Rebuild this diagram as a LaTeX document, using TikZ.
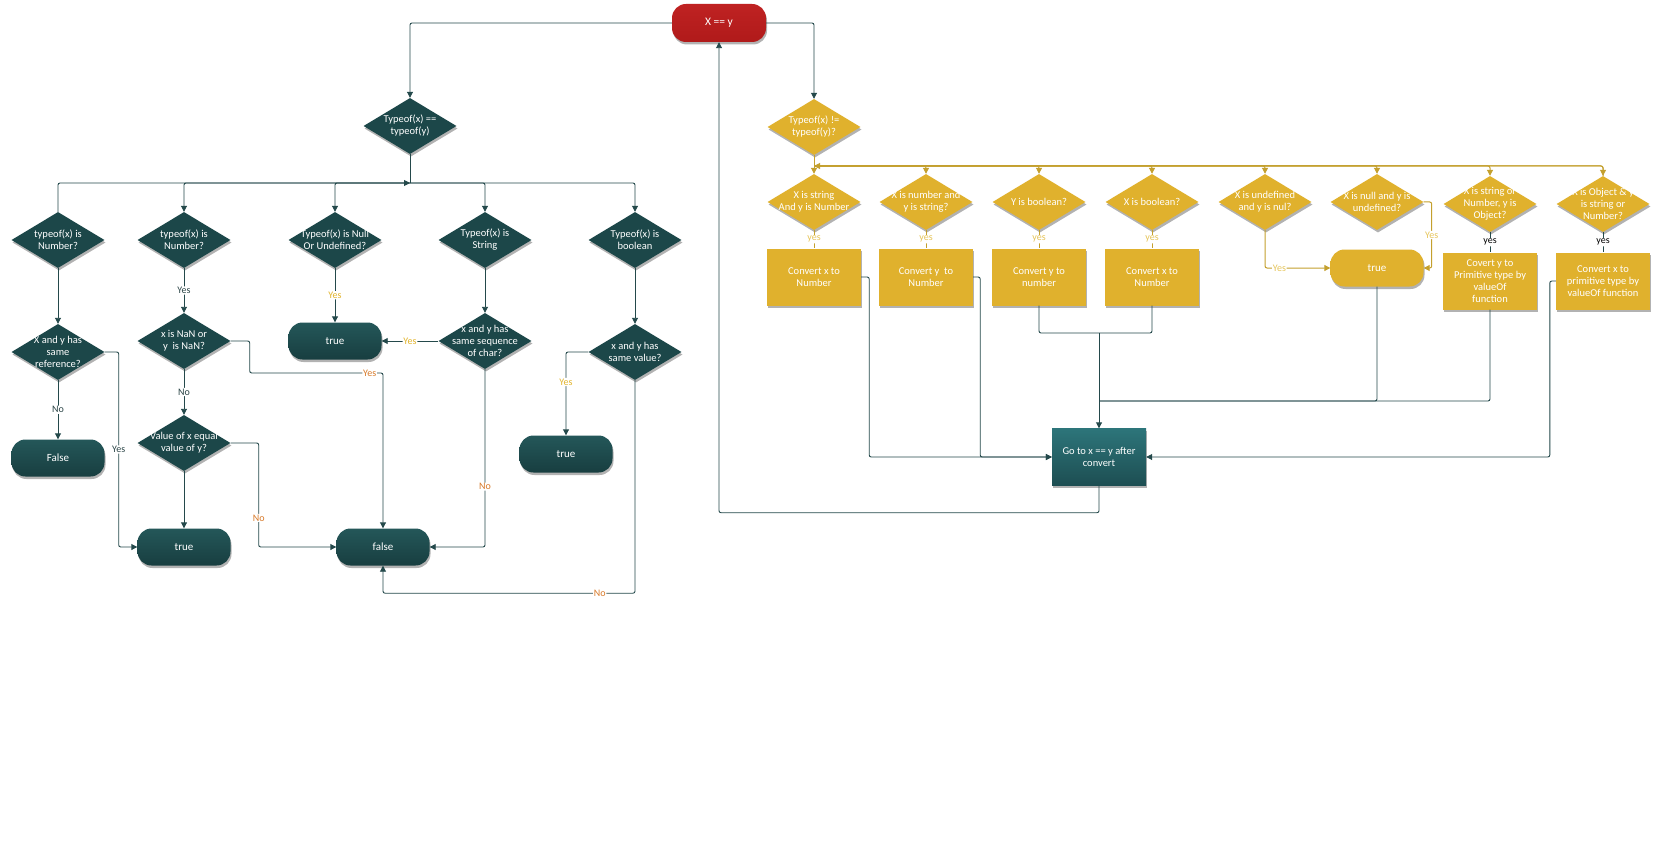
\documentclass[tikz,border=0pt]{standalone}
\usepackage{fontspec}
\setmainfont{Carlito}
\usetikzlibrary{shapes.geometric,arrows.meta,shadows}
\definecolor{dk}{HTML}{1C4749}
\definecolor{dkt}{HTML}{245759}
\definecolor{dkb}{HTML}{183E40}
\definecolor{redf}{HTML}{B01A1A}
\definecolor{redt}{HTML}{BF2222}
\definecolor{yf}{HTML}{E0B12D}
\definecolor{gotop}{HTML}{2D757A}
\definecolor{gobot}{HTML}{1D4E52}
\definecolor{lnc}{HTML}{24494B}
\definecolor{ylnc}{HTML}{C4A02E}
\definecolor{dkl}{HTML}{2A4446}
\definecolor{org}{HTML}{D87A2A}
\definecolor{yl}{HTML}{E2B42C}
\definecolor{yll}{HTML}{E6C55A}
\tikzset{
  shd/.style={drop shadow={shadow xshift=1pt,shadow yshift=-2.5pt,opacity=0.3,fill=black}},
  dia/.style={diamond,inner sep=0pt,minimum width=93pt,minimum height=56pt,shd},
  ddia/.style={dia,fill=dk},
  ydia/.style={dia,fill=yf},
  term/.style={rectangle,rounded corners=14pt,minimum width=93pt,minimum height=37pt,
     top color=dkt,bottom color=dkb,shd,text=white,font=\fontsize{11}{13}\selectfont},
  yterm/.style={term,top color=yf,bottom color=yf},
  startbox/.style={rectangle,rounded corners=14pt,minimum width=94pt,minimum height=38pt,
     top color=redt,bottom color=redf,shd,text=white,font=\fontsize{11.5}{13}\selectfont},
  yrect/.style={rectangle,fill=yf,minimum width=94pt,minimum height=57pt,shd,inner sep=0pt},
  gobox/.style={rectangle,top color=gotop,bottom color=gobot,minimum width=94pt,minimum height=57pt,shd,
     text=white,align=center,font=\fontsize{10.5}{12.5}\selectfont},
  txt/.style={text=white,align=center,inner sep=0pt,font=\fontsize{10.5}{12}\selectfont},
  ln/.style={draw=lnc,line width=0.9pt,rounded corners=2pt},
  yln/.style={draw=ylnc,line width=1pt,rounded corners=2pt},
  arr/.style={-{Triangle[length=6pt,width=6pt]}},
  lbl/.style={fill=white,inner sep=0.8pt,font=\fontsize{10}{11}\selectfont}
}
\begin{document}
\begin{tikzpicture}[x=1pt,y=-1pt]
\useasboundingbox (0,0) rectangle (1662,853);
\fill[white] (0,0) rectangle (1662,853);

% ---------- nodes ----------
\node[startbox] (start) at (719,23) {X == y};

\node[ddia] (d0) at (410,126) {};
\node[txt] at (d0) {Typeof(x) ==\\typeof(y)};

\node[ddia] (dA1) at (58,240) {};
\node[txt] at (dA1) {typeof(x) is\\Number?};
\node[ddia] (dA2) at (184,240) {};
\node[txt] at (dA2) {typeof(x) is\\Number?};
\node[ddia] (dA3) at (335,240) {};
\node[txt] at (dA3) {Typeof(x) is Null\\Or Undefined?};
\node[ddia] (dA4) at (485,240) {};
\node[txt] at (dA4) {Typeof(x) is\\String};
\node[ddia] (dA5) at (635,240) {};
\node[txt] at (dA5) {Typeof(x) is\\boolean};

\node[ddia] (dB1) at (58,352) {};
\node[txt] at (dB1) {X and y has\\same\\reference?};
\node[term] (tF1) at (58,458) {False};

\node[ddia] (dB2) at (184,341) {};
\node[txt] at (dB2) {x is NaN or\\y\ \ is NaN?};
\node[ddia] (dC2) at (184,443) {};
\node[txt] at (dC2) {Value of x equal\\value of y?};
\node[term] (tT2) at (184,547) {true};

\node[term] (tT3) at (335,341) {true};
\node[ddia] (dB4) at (485,341) {};
\node[txt] at (dB4) {x and y has\\same sequence\\of char?};
\node[term] (tF2) at (383,547) {false};

\node[ddia] (dB5) at (635,352) {};
\node[txt] at (dB5) {x and y has\\same value?};
\node[term] (tT5) at (566,454) {true};

\coordinate (jn) at (410,183);

% yellow side
\node[ydia] (y0) at (814,127) {};
\node[txt] at (y0) {Typeof(x) !=\\typeof(y)?};
\coordinate (yjn) at (814,166);

\node[ydia] (yD1) at (814,202) {};
\node[txt] at (yD1) {X is string\\And y is Number};
\node[ydia] (yD2) at (926,202) {};
\node[txt] at (yD2) {X is number and\\y is string?};
\node[ydia] (yD3) at (1039,202) {};
\node[txt] at (yD3) {Y is boolean?};
\node[ydia] (yD4) at (1152,202) {};
\node[txt] at (yD4) {X is boolean?};
\node[ydia] (yD5) at (1265,202) {};
\node[txt] at (yD5) {X is undefined\\and y is nul?};
\node[ydia] (yD6) at (1377,202) {};
\node[txt] at (yD6) {X is null and y is\\undefined?};
\node[ydia] (yD7) at (1490,204) {};
\node[txt] at (yD7) {X is string or\\Number, y is\\Object?};
\node[ydia] (yD8) at (1603,204) {};
\node[txt] at (yD8) {X is Object \& y\\is string or\\Number?};

\node[yrect] (yR1) at (814,277) {};
\node[txt] at (yR1) {Convert x to\\Number};
\node[yrect] (yR2) at (926,277) {};
\node[txt] at (yR2) {Convert y\ \ to\\Number};
\node[yrect] (yR3) at (1039,277) {};
\node[txt] at (yR3) {Convert y to\\number};
\node[yrect] (yR4) at (1152,277) {};
\node[txt] at (yR4) {Convert x to\\Number};
\node[yterm] (yT) at (1377,268) {true};
\node[yrect] (yR7) at (1490,281) {};
\node[txt] at (yR7) {Covert y to\\Primitive type by\\valueOf\\function};
\node[yrect] (yR8) at (1603,281) {};
\node[txt] at (yR8) {Convert x to\\primitive type by\\valueOf function};

\node[gobox] (go) at (1099,457) {Go to x == y after\\convert};
\coordinate (j34) at (1099,333);
\coordinate (j2) at (1099,401);

% ---------- connectors: dark side ----------
\draw[ln,arr] (start.west) -| (d0.north);
\draw[ln] (d0.south) -- (jn);
\draw[ln,arr] (dA1.north) |- (jn);
\foreach \n in {dA2,dA3,dA4,dA5} \draw[ln,arr] (jn) -| (\n.north);

\draw[ln,arr] (dA1.south) -- (dB1.north);
\draw[ln,arr] (dB1.south) -- node[lbl,text=dkl]{No} (tF1.north);
\draw[ln,arr] (dB1.east) -- ++(14,0) |- node[lbl,pos=0.25,text=dkl]{Yes} (tT2.west);

\draw[ln,arr] (dA2.south) -- node[lbl,text=dkl]{Yes} (dB2.north);
\draw[ln,arr] (dB2.south) -- node[lbl,text=dkl]{No} (dC2.north);
\draw[ln,arr] (dC2.south) -- (tT2.north);
\draw[ln,arr] (dB2.east) -- ++(19,0) -- ++(0,32) -| node[lbl,pos=0.45,text=org]{Yes} (tF2.north);
\draw[ln,arr] (dC2.east) -- ++(28,0) |- node[lbl,pos=0.36,text=org]{No} (tF2.west);

\draw[ln,arr] (dA3.south) -- node[lbl,text=yl]{Yes} (tT3.north);
\draw[ln,arr] (dB4.west) -- node[lbl,text=yl]{Yes} (tT3.east);
\draw[ln,arr] (dA4.south) -- (dB4.north);
\draw[ln,arr] (dB4.south) |- node[lbl,pos=0.33,text=org]{No} (tF2.east);

\draw[ln,arr] (dA5.south) -- (dB5.north);
\draw[ln,arr] (dB5.west) -| node[lbl,pos=0.68,text=yl]{Yes} (tT5.north);
\draw[ln,arr] (dB5.south) -- ++(0,213) -| node[lbl,pos=0.07,text=org]{No} (tF2.south);

% ---------- connectors: yellow side ----------
\draw[ln,arr] (start.east) -| (y0.north);
\draw[yln] (y0.south) -- (yjn);
\draw[yln,arr] (yD8.north) |- (yjn);
\foreach \n in {yD1,yD2,yD3,yD4,yD5,yD6,yD7,yD8} \draw[yln,arr] (yjn) -| (\n.north);

\foreach \n in {1,2,3,4} \draw[yln] (yD\n.south) -- node[lbl,text=yll]{yes} (yR\n.north);
\foreach \n in {7,8} \draw[ln] (yD\n.south) -- node[lbl,text=black]{yes} (yR\n.north);

\draw[yln,arr] (yD5.south) |- node[lbl,pos=0.61,text=yll]{Yes} (yT.west);
\draw[yln,arr] (yD6.east) -- ++(8,0) |- node[lbl,pos=0.25,text=yll]{Yes} (yT.east);

\draw[ln,arr] (yR1.east) -- ++(8,0) |- (go.west);
\draw[ln,arr] (yR2.east) -- ++(7,0) |- (go.west);
\draw[ln] (yR3.south) |- (j34);
\draw[ln] (yR4.south) |- (j34);
\draw[ln,arr] (j34) -- (go.north);
\draw[ln] (yT.south) |- (j2);
\draw[ln] (yR7.south) |- (j2);
\draw[ln,arr] (yR8.west) -- ++(-6,0) |- (go.east);
\draw[ln,arr] (go.south) -- ++(0,27) -| (start.south);
\end{tikzpicture}
\end{document}
